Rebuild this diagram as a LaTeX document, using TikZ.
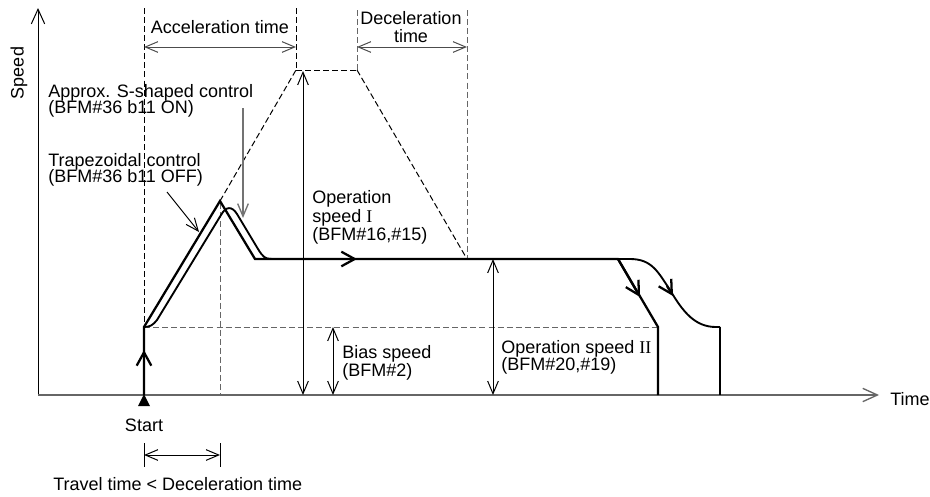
\documentclass[tikz,border=0pt]{standalone}
\usepackage{fontspec}
\setmainfont{Liberation Sans}
\newfontfamily\rmnum{Liberation Serif}
\usetikzlibrary{arrows.meta}
\tikzset{
  vbarb/.tip={Straight Barb[length=9.5pt,width=8pt]},
  axbarb/.tip={Straight Barb[length=11pt,width=10pt]},
  midbarb/.tip={Straight Barb[length=10pt,width=11pt]},
  txt/.style={font=\fontsize{13.5}{17}\selectfont, inner sep=0pt},
  curve/.style={line width=1.7pt},
  sline/.style={line width=1.4pt},
  thinln/.style={line width=0.75pt},
  dsh/.style={line width=0.75pt, dash pattern=on 4.5pt off 2.3pt},
  gdsh/.style={dsh, black!60},
  dimln/.style={line width=0.75pt, {vbarb}-{vbarb}},
}
\begin{document}
\begin{tikzpicture}[x=0.75pt,y=-0.75pt]
\useasboundingbox (0,0) rectangle (930,496);
% key coordinates
\coordinate (O) at (38,395);
\coordinate (ytop) at (38,8);
\coordinate (xend) at (879,395);
\coordinate (st0) at (144,395);
\coordinate (st1) at (144,327);
\coordinate (pk) at (220,201);
\coordinate (tr1) at (255,259);
\coordinate (ac) at (296,70);
\coordinate (dc) at (357,70);
\coordinate (dcend) at (467,259);
\coordinate (td0) at (618,259);
\coordinate (td1) at (658,327);
\coordinate (td2) at (658,395);
\coordinate (sd2) at (720,327);
\coordinate (sd3) at (720,395);

% axes
\draw[thinln, -{axbarb}] (O) -- (ytop);
\draw[black!60, line width=1pt, -{axbarb}] (O) -- (xend);

% dashed guides
\draw[dsh] (144,8) -- (st1);
\draw[dsh] (296,8) -- (ac);
\draw[gdsh] (357,10) -- (dc);
\draw[gdsh] (467,10) -- (dcend);
\draw[dsh] (pk) -- (ac);
\draw[dsh] (ac) -- (dc);
\draw[dsh] (dc) -- (dcend);
\draw[gdsh] (220,203) -- (220,395);
\draw[gdsh] (st1) -- (td1);

% time dimension arrows
\draw[dimln, black!70] (144,47) -- (296,47);
\draw[dimln, black!70] (357,47) -- (467,47);

% travel time dimension
\draw[thinln] (144,443) -- (144,467);
\draw[thinln] (220,443) -- (220,467);
\draw[dimln] (144,455) -- (220,455);

% speed dimension arrows
\draw[dimln] (303,71) -- (303,395);
\draw[dimln] (333,327) -- (333,395);
\draw[dimln] (493,259) -- (493,395);

% main speed profile (trapezoidal)
\draw[curve, -{midbarb}] (st0) -- (144,350);
\draw[curve, line join=miter] (st0) -- (st1) -- (pk) -- (tr1) -- (td0) -- (td1) -- (td2);
\draw[curve, -{midbarb}] (tr1) -- (357,259);
\draw[curve, -{midbarb}] (td0) -- (640,297);

% S-shaped profile
\draw[sline] (st1) .. controls (150,327) and (153,325) .. (157,320)
  -- (221,215) .. controls (226,206) and (232,206) .. (237,214)
  -- (258,249) .. controls (263,257) and (265,259) .. (272,259);
\draw[sline] (td0) -- (630,259) .. controls (652,259) and (658,272) .. (670,290)
  .. controls (683,312) and (695,327) .. (716,327) -- (sd2);
\draw[curve] (sd2) -- (sd3);
\draw[curve, -{midbarb}] (667,286) -- (673,296);

% start marker
\fill (144,394) -- (150,406) -- (138,406) -- cycle;

% pointers
\draw[thinln, -{vbarb}] (167,192) -- (199,232);
\draw[black!55, line width=1pt, -{vbarb}] (243,108) -- (243,218);

% texts
\node[txt, rotate=90] (speed) at (19,73) {Speed};
\node[txt, anchor=base west] (time) at (890,405) {Time};
\node[txt, anchor=base] (start) at (144,431) {Start};
\node[txt, anchor=base west] (travel) at (53,490) {Travel time {\textless} Deceleration time};
\node[txt, anchor=base] (acc) at (220,33) {Acceleration time};
\node[txt, anchor=base] (dec1) at (411,24) {Deceleration};
\node[txt, anchor=base] (dec2) at (411,42) {time};
\node[txt, anchor=base west] (s1) at (48,97) {Approx. S-shaped control};
\node[txt, anchor=base west] (s2) at (48,113) {(BFM\#36 b11 ON)};
\node[txt, anchor=base west] (t1) at (48,166) {Trapezoidal control};
\node[txt, anchor=base west] (t2) at (48,182) {(BFM\#36 b11 OFF)};
\node[txt, anchor=base west] (op1a) at (312,203) {Operation};
\node[txt, anchor=base west] (op1b) at (312,222) {speed {\rmnum I}};
\node[txt, anchor=base west] (op1c) at (312,240) {(BFM\#16,\#15)};
\node[txt, anchor=base west] (b1) at (342,358) {Bias speed};
\node[txt, anchor=base west] (b2) at (342,376) {(BFM\#2)};
\node[txt, anchor=base west] (op2a) at (501,353) {Operation speed {\rmnum II}};
\node[txt, anchor=base west] (op2b) at (501,370) {(BFM\#20,\#19)};
\end{tikzpicture}
\end{document}
